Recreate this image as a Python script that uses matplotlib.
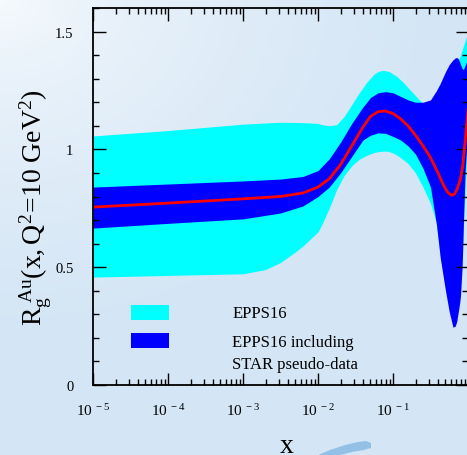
import numpy as np
import matplotlib.pyplot as plt
from matplotlib.patches import Rectangle, Polygon

plt.rcParams['font.family'] = ['Liberation Serif', 'DejaVu Serif']
plt.rcParams['mathtext.fontset'] = 'custom'
plt.rcParams['mathtext.rm'] = 'Liberation Serif'
plt.rcParams['mathtext.it'] = 'Liberation Serif:italic'

# EPPS16 band (cyan), log10(x) and the ratio
lx_cyan = [-5.0, -4.0, -3.0, -2.7, -2.5, -2.3, -2.2, -2.1, -2.0, -1.95, -1.85, -1.75, -1.65,
           -1.55, -1.5, -1.45, -1.35, -1.25, -1.2, -1.15, -1.1, -1.05, -1.0, -0.95, -0.9,
           -0.85, -0.8, -0.75, -0.7, -0.65, -0.6, -0.55, -0.5, -0.45, -0.42, -0.4, -0.37,
           -0.35, -0.3, -0.2, -0.1, 0.0]
epps_hi = [1.057, 1.08, 1.107, 1.112, 1.115, 1.114, 1.113, 1.112, 1.11, 1.105, 1.10, 1.105, 1.14,
           1.19, 1.215, 1.24, 1.285, 1.32, 1.33, 1.335, 1.334, 1.33, 1.32, 1.31, 1.295,
           1.28, 1.262, 1.245, 1.228, 1.21, 1.195, 1.185, 1.18, 1.185, 1.19, 1.20, 1.215,
           1.23, 1.27, 1.33, 1.40, 1.50]
epps_lo = [0.458, 0.465, 0.472, 0.49, 0.52, 0.565, 0.59, 0.62, 0.65, 0.68, 0.75, 0.83, 0.89,
           0.93, 0.945, 0.958, 0.975, 0.987, 0.99, 0.992, 0.993, 0.99, 0.985, 0.976, 0.965,
           0.953, 0.94, 0.92, 0.90, 0.87, 0.84, 0.805, 0.77, 0.72, 0.68, 0.63, 0.55,
           0.51, 0.41, 0.26, 0.40, 1.10]

# EPPS16 including STAR pseudo-data band (blue)
lx_blue = [-5.0, -4.0, -3.0, -2.5, -2.2, -2.0, -1.85, -1.7, -1.55, -1.4, -1.3, -1.2, -1.1,
           -1.0, -0.9, -0.8, -0.7, -0.6, -0.5, -0.42, -0.37, -0.3, -0.25, -0.2, -0.17,
           -0.15, -0.13, -0.11, -0.1, -0.08, -0.07, -0.06, -0.04, -0.01, 0.0]
star_hi = [0.84, 0.853, 0.866, 0.874, 0.885, 0.91, 0.96, 1.03, 1.11, 1.18, 1.22, 1.24, 1.245,
           1.24, 1.225, 1.21, 1.20, 1.20, 1.21, 1.25, 1.28, 1.33, 1.36, 1.38, 1.388,
           1.39, 1.385, 1.37, 1.36, 1.345, 1.34, 1.34, 1.355, 1.38, 1.38]
star_lo = [0.666, 0.686, 0.705, 0.73, 0.76, 0.80, 0.84, 0.90, 0.97, 1.04, 1.06, 1.07, 1.068,
           1.055, 1.04, 1.015, 0.98, 0.92, 0.84, 0.68, 0.54, 0.40, 0.31, 0.245, 0.25,
           0.27, 0.31, 0.35, 0.38, 0.49, 0.58, 0.70, 0.90, 1.05, 1.10]

# central EPPS16+STAR curve (red)
lx_central = [-5.0, -4.0, -3.0, -2.5, -2.2, -2.0, -1.85, -1.7, -1.55, -1.4, -1.3, -1.2, -1.1,
              -1.0, -0.9, -0.8, -0.7, -0.6, -0.5, -0.4, -0.33, -0.27, -0.22, -0.18, -0.14,
              -0.1, -0.07, -0.04, -0.01, 0.0]
central = [0.755, 0.772, 0.79, 0.80, 0.815, 0.84, 0.875, 0.935, 1.015, 1.095, 1.14, 1.16, 1.163,
           1.152, 1.13, 1.10, 1.06, 1.015, 0.965, 0.90, 0.85, 0.818, 0.805, 0.81, 0.835,
           0.875, 0.93, 1.03, 1.13, 1.17]

xticks = [1e-5, 1e-4, 1e-3, 1e-2, 1e-1]
xtick_labels = [r'$\mathrm{10^{\ -5}}$', r'$\mathrm{10^{\ -4}}$', r'$\mathrm{10^{\ -3}}$',
                r'$\mathrm{10^{\ -2}}$', r'$\mathrm{10^{\ -1}}$']
yticks = [0, 0.5, 1, 1.5]
ytick_labels = ['0', '0.5', '1', '1.5']

W, H = 467, 456
fig = plt.figure(figsize=(W / 100, H / 100), dpi=100)

# slide background: light blue gradient, whiter at top-left
bg = fig.add_axes([0, 0, 1, 1], zorder=-10)
gy, gx = np.mgrid[0:1:200j, 0:1:200j]
d = np.clip(np.sqrt((gx / 0.9) ** 2 + (gy / 0.7) ** 2), 0, 1)
c0 = np.array([0.975, 0.985, 0.995])
c1 = np.array([0.835, 0.902, 0.962])
img = c0 + (c1 - c0) * d[..., None] ** 0.6
bg.imshow(img, extent=[0, W, 0, H], origin='upper', aspect='auto')
# faint swoosh from the slide logo at the bottom
swoosh = [(318, 456), (330, 451), (345, 446), (358, 443), (366, 442), (371, 444), (371, 449),
          (364, 451), (352, 453), (340, 456)]
bg.add_patch(Polygon([(px, H - py) for px, py in swoosh], closed=True, color='#93c0e6', lw=0))
bg.set_xlim(0, W)
bg.set_ylim(0, H)
bg.axis('off')

ax = fig.add_axes([93 / W, (H - 386) / H, 375 / W, 377 / H])
ax.patch.set_alpha(0)

ax.fill_between(10.0 ** np.array(lx_cyan), epps_lo, epps_hi, color='#00ffff', lw=0)
ax.fill_between(10.0 ** np.array(lx_blue), star_lo, star_hi, color='#0000ff', lw=0)
ax.plot(10.0 ** np.array(lx_central), central, color='#ff0000', lw=2.0)

ax.set_xscale('log')
ax.set_xlim(1e-5, 1)
ax.set_ylim(0, 1.6)
ax.set_xticks(xticks)
ax.set_xticklabels(xtick_labels, fontsize=11)
ax.set_yticks(yticks)
ax.set_yticklabels(ytick_labels, fontsize=10.5)
ax.set_yticks(np.arange(0, 1.61, 0.1), minor=True)
ax.tick_params(which='both', direction='in', top=True, right=True, width=1.0, color='black')
ax.tick_params(which='major', length=9)
ax.tick_params(which='minor', length=4.5)
ax.tick_params(axis='y', which='major', pad=14)
ax.tick_params(axis='x', which='major', pad=12)
for s in ax.spines.values():
    s.set_linewidth(1.3)

# legend drawn by hand, the way the original figure has it
ax.add_patch(Rectangle((0.101, 0.172), 0.101, 0.040, transform=ax.transAxes, color='#00ffff', lw=0))
ax.add_patch(Rectangle((0.101, 0.098), 0.101, 0.040, transform=ax.transAxes, color='#0000ff', lw=0))
ax.text(0.371, 0.190, 'EPPS16', transform=ax.transAxes, fontsize=12, va='center')
ax.text(0.371, 0.114, 'EPPS16 including', transform=ax.transAxes, fontsize=12, va='center')
ax.text(0.371, 0.056, 'STAR pseudo-data', transform=ax.transAxes, fontsize=12, va='center')

fig.text(36 / W, 1 - 208 / H, r'$\mathrm{R_g^{\ Au}(x,Q^2\!=\!10\ GeV^2)}$',
         rotation=90, ha='center', va='center', fontsize=20)
fig.text(287 / W, 1 - 453 / H, 'x', ha='center', va='baseline', fontsize=20)

fig.savefig('out.png', dpi=100)
